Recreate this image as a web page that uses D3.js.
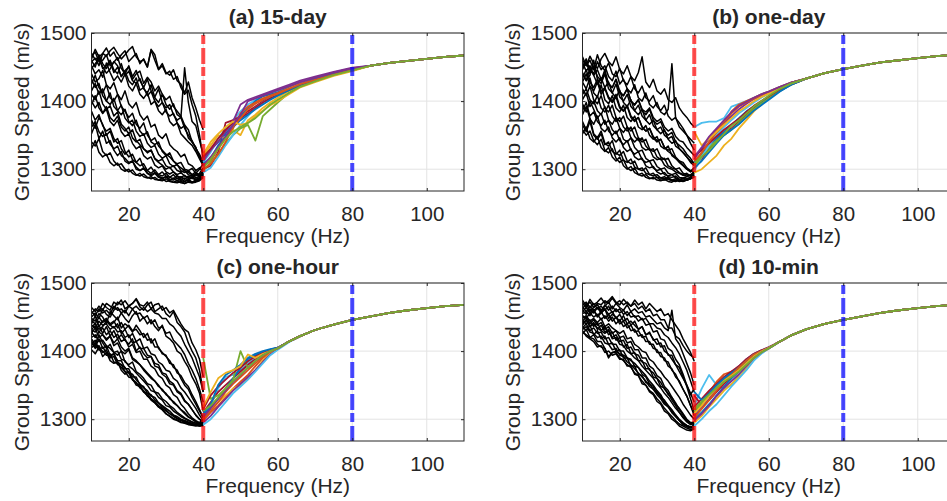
<!DOCTYPE html>
<html>
<head>
<meta charset="utf-8">
<script src="https://d3js.org/d3.v7.min.js"></script>
<style>
body { margin: 0; background: #fff; }
text { font-family: "Liberation Sans", Arial, Helvetica, sans-serif; fill: #262626; }
</style>
</head>
<body>
<svg id="chart" width="947" height="501"></svg>
<script>
// frequencies (Hz) the hand-read values sit on
var blackFreq = [10,11,12,13,14,15,16,17,18,19,20,21,22,23,24,25,26,27,28,29,30,31,32,33,34,35,36,37,38,39,40];
var colorFreq = [40,42,44,46,48,50,52,54,56,58,60,63,66,70,75,80];
var tailFreq = [85,90,95,100,105,110];

var titles = ["(a) 15-day", "(b) one-day", "(c) one-hour", "(d) 10-min"];
var xTicks = [20, 40, 60, 80, 100];
var yTicks = [1300, 1400, 1500];
var lineColors = ["#0072BD","#D95319","#EDB120","#7E2F8E","#77AC30","#4DBEEE","#A2142F"];

// (a) 15-day
var blackA = [
 [1458,1463,1452,1470,1466,1474,1479,1470,1462,1468,1475,1480,1465,1458,1461,1450,1476,1468,1447,1455,1442,1438,1446,1430,1425,1412,1428,1405,1390,1372,1358],
 [1470,1461,1465,1448,1452,1460,1446,1440,1455,1437,1444,1430,1426,1433,1418,1412,1424,1405,1398,1410,1395,1388,1396,1380,1376,1449,1398,1370,1364,1342,1322],
 [1448,1455,1462,1450,1441,1447,1458,1452,1436,1445,1450,1432,1440,1444,1426,1435,1428,1415,1422,1410,1402,1407,1392,1385,1378,1365,1358,1340,1332,1318,1306],
 [1440,1428,1433,1445,1424,1418,1427,1410,1402,1415,1396,1390,1398,1380,1372,1378,1362,1366,1350,1345,1352,1336,1330,1326,1318,1322,1308,1305,1298,1302,1296],
 [1425,1438,1420,1412,1424,1405,1400,1410,1392,1385,1376,1382,1366,1360,1368,1350,1342,1346,1334,1328,1322,1318,1312,1306,1302,1298,1295,1292,1296,1290,1300],
 [1410,1402,1415,1396,1388,1393,1378,1384,1366,1360,1352,1358,1342,1336,1330,1324,1328,1315,1310,1306,1300,1303,1296,1292,1295,1290,1288,1292,1287,1290,1297],
 [1385,1372,1380,1364,1356,1360,1345,1338,1342,1326,1318,1322,1310,1305,1308,1298,1294,1299,1292,1290,1294,1288,1286,1290,1285,1287,1284,1288,1283,1286,1293],
 [1362,1370,1355,1348,1352,1337,1330,1334,1320,1316,1310,1312,1303,1298,1301,1294,1292,1295,1290,1287,1289,1285,1284,1287,1283,1282,1285,1281,1283,1284,1290],
 [1340,1334,1345,1326,1320,1324,1312,1306,1308,1300,1296,1299,1292,1290,1293,1288,1286,1288,1284,1283,1286,1282,1281,1283,1280,1279,1282,1280,1281,1283,1288],
 [1452,1440,1446,1435,1456,1442,1430,1437,1428,1440,1422,1415,1426,1410,1404,1412,1395,1400,1386,1380,1388,1370,1364,1368,1352,1346,1340,1335,1326,1315,1305],
 [1432,1420,1426,1408,1400,1412,1392,1386,1394,1375,1368,1372,1356,1348,1352,1338,1332,1335,1322,1316,1320,1308,1304,1307,1298,1295,1298,1292,1290,1294,1302],
 [1466,1472,1458,1460,1468,1452,1457,1464,1448,1440,1452,1436,1445,1430,1420,1432,1415,1406,1418,1398,1390,1395,1380,1372,1376,1360,1350,1342,1330,1322,1310],
 [1395,1408,1390,1382,1388,1370,1364,1372,1355,1348,1352,1338,1330,1334,1320,1315,1318,1306,1302,1305,1296,1293,1296,1290,1288,1291,1286,1289,1285,1288,1295],
 [1372,1360,1376,1366,1350,1356,1340,1345,1330,1322,1328,1314,1310,1316,1302,1298,1303,1295,1292,1296,1290,1288,1292,1286,1289,1285,1290,1286,1294,1300,1308],
 [1415,1426,1410,1418,1400,1395,1404,1386,1380,1388,1370,1364,1372,1356,1350,1355,1340,1336,1340,1326,1320,1324,1312,1308,1310,1300,1298,1301,1294,1292,1290],
 [1460,1450,1468,1455,1448,1458,1442,1450,1436,1444,1430,1424,1434,1416,1420,1408,1414,1400,1392,1398,1384,1378,1382,1368,1360,1364,1346,1340,1332,1318,1308],
 [1330,1342,1325,1318,1322,1310,1305,1309,1300,1297,1300,1294,1291,1294,1289,1287,1289,1285,1284,1286,1282,1283,1281,1280,1282,1279,1281,1280,1282,1286,1292],
 [1462,1476,1465,1470,1478,1466,1472,1460,1468,1474,1458,1464,1470,1455,1462,1450,1475,1460,1446,1452,1440,1444,1432,1436,1420,1410,1416,1395,1378,1350,1315],
 [1400,1390,1398,1382,1392,1376,1370,1378,1362,1356,1362,1346,1340,1344,1330,1326,1328,1316,1312,1315,1305,1302,1305,1298,1296,1298,1292,1290,1293,1289,1296],
 [1352,1366,1345,1356,1338,1342,1328,1320,1326,1312,1308,1312,1300,1298,1302,1294,1290,1294,1288,1286,1289,1284,1287,1283,1286,1282,1284,1281,1284,1287,1294]
];
var colorA = [
 [1310,1325,1345,1360,1372,1385,1395,1402,1408,1412,1415,1422,1428,1434,1441,1447],
 [1300,1305,1325,1368,1372,1378,1385,1392,1400,1406,1410,1418,1425,1432,1440,1446],
 [1315,1330,1340,1352,1365,1378,1390,1400,1407,1410,1413,1420,1427,1433,1441,1447],
 [1305,1312,1330,1345,1360,1382,1392,1398,1404,1408,1412,1419,1426,1432,1440,1446],
 [1320,1335,1350,1345,1358,1350,1372,1380,1390,1398,1405,1415,1423,1430,1438,1445],
 [1312,1328,1340,1355,1370,1395,1402,1406,1410,1414,1418,1424,1430,1436,1443,1449],
 [1298,1310,1322,1338,1350,1360,1365,1342,1378,1388,1398,1412,1422,1430,1438,1445],
 [1295,1302,1318,1335,1350,1365,1378,1390,1398,1405,1410,1418,1425,1431,1439,1446],
 [1318,1330,1345,1358,1368,1375,1382,1390,1398,1404,1409,1416,1424,1431,1439,1446],
 [1308,1316,1335,1348,1362,1372,1380,1388,1395,1402,1408,1416,1424,1432,1440,1446],
 [1300,1308,1322,1340,1362,1375,1388,1396,1402,1407,1411,1418,1425,1431,1439,1446],
 [1322,1340,1352,1362,1370,1365,1368,1378,1386,1394,1400,1410,1420,1428,1437,1444],
 [1305,1318,1332,1348,1365,1380,1400,1404,1408,1412,1416,1422,1428,1434,1442,1448],
 [1302,1315,1330,1345,1355,1362,1368,1375,1385,1395,1402,1412,1421,1429,1438,1445]
];
var tailA = [1452,1456,1459,1462,1465,1467];

// (b) one-day
var blackB = [
 [1460,1452,1466,1455,1448,1462,1470,1458,1452,1465,1446,1440,1452,1436,1430,1442,1465,1428,1420,1432,1415,1410,1418,1402,1398,1405,1390,1382,1376,1368,1362],
 [1450,1462,1445,1440,1458,1446,1452,1436,1430,1444,1425,1432,1418,1412,1424,1405,1400,1412,1395,1390,1398,1384,1380,1388,1455,1375,1368,1360,1350,1338,1328],
 [1442,1430,1448,1438,1425,1434,1420,1428,1412,1405,1416,1398,1392,1402,1386,1380,1388,1372,1366,1372,1358,1352,1358,1344,1338,1342,1330,1324,1318,1310,1305],
 [1428,1440,1422,1415,1428,1410,1418,1404,1398,1406,1390,1385,1392,1376,1370,1376,1362,1356,1360,1346,1340,1344,1332,1326,1322,1316,1310,1305,1300,1297,1302],
 [1410,1418,1402,1396,1408,1390,1384,1394,1378,1370,1376,1362,1356,1362,1348,1342,1346,1334,1328,1330,1318,1314,1316,1305,1302,1300,1295,1292,1294,1290,1296],
 [1396,1384,1400,1388,1375,1382,1366,1372,1358,1352,1360,1344,1340,1346,1332,1326,1328,1316,1312,1314,1304,1300,1302,1294,1292,1294,1288,1287,1289,1291,1294],
 [1380,1392,1374,1366,1378,1360,1355,1362,1346,1340,1346,1332,1326,1330,1318,1314,1316,1305,1302,1304,1296,1293,1295,1289,1288,1290,1285,1284,1286,1288,1292],
 [1365,1355,1370,1350,1344,1352,1336,1340,1326,1322,1328,1313,1310,1315,1303,1300,1302,1294,1292,1294,1288,1287,1289,1285,1284,1286,1283,1282,1284,1286,1290],
 [1352,1362,1345,1340,1348,1332,1326,1332,1318,1312,1318,1305,1300,1304,1295,1292,1294,1288,1286,1288,1284,1283,1285,1282,1281,1284,1282,1283,1284,1286,1288],
 [1456,1444,1452,1438,1446,1432,1440,1426,1420,1432,1414,1408,1418,1400,1394,1402,1386,1380,1388,1372,1366,1370,1356,1350,1354,1340,1335,1330,1322,1316,1308],
 [1434,1446,1428,1420,1432,1414,1420,1406,1400,1410,1392,1386,1394,1378,1372,1376,1362,1356,1360,1348,1342,1344,1332,1328,1330,1318,1312,1310,1302,1298,1296],
 [1418,1408,1422,1402,1396,1408,1390,1384,1394,1376,1370,1378,1362,1356,1362,1346,1340,1344,1330,1326,1330,1318,1314,1316,1305,1300,1302,1294,1292,1290,1298],
 [1386,1398,1378,1384,1370,1364,1372,1356,1350,1356,1342,1336,1342,1328,1322,1326,1314,1310,1312,1302,1298,1300,1292,1290,1292,1287,1285,1287,1285,1288,1292],
 [1465,1452,1460,1446,1468,1452,1445,1456,1440,1436,1448,1430,1424,1436,1418,1412,1422,1405,1400,1408,1392,1386,1394,1378,1372,1376,1362,1356,1350,1344,1338],
 [1370,1358,1375,1352,1346,1356,1338,1334,1342,1324,1320,1326,1312,1308,1312,1300,1298,1302,1292,1290,1292,1287,1286,1288,1284,1283,1285,1283,1284,1286,1290],
 [1446,1458,1440,1452,1436,1430,1446,1424,1420,1432,1412,1408,1418,1400,1395,1402,1388,1384,1390,1376,1370,1374,1362,1356,1360,1348,1342,1340,1332,1326,1320],
 [1428,1418,1434,1412,1406,1424,1402,1396,1408,1390,1384,1394,1376,1370,1378,1362,1358,1364,1350,1344,1348,1334,1330,1334,1320,1316,1312,1306,1300,1296,1302],
 [1402,1412,1392,1400,1386,1380,1392,1372,1366,1376,1360,1354,1362,1346,1340,1346,1332,1328,1330,1318,1314,1316,1306,1302,1300,1296,1294,1291,1290,1292,1295],
 [1358,1350,1356,1342,1336,1344,1328,1324,1330,1316,1310,1314,1302,1298,1302,1292,1290,1292,1287,1286,1288,1284,1284,1286,1283,1282,1284,1283,1284,1287,1289],
 [1440,1430,1438,1460,1432,1426,1440,1418,1412,1425,1406,1400,1410,1392,1386,1394,1378,1372,1380,1364,1358,1362,1350,1345,1348,1334,1330,1325,1318,1312,1308]
];
var colorB = [
 [1362,1368,1370,1370,1375,1392,1396,1400,1405,1410,1414,1421,1427,1433,1441,1447],
 [1300,1315,1330,1342,1352,1360,1370,1380,1390,1398,1406,1416,1424,1433,1441,1447],
 [1310,1322,1335,1345,1355,1365,1375,1385,1392,1398,1405,1415,1424,1433,1441,1447],
 [1305,1325,1340,1352,1365,1385,1395,1400,1405,1410,1414,1421,1427,1433,1441,1447],
 [1295,1300,1310,1320,1335,1345,1360,1372,1385,1395,1404,1416,1425,1433,1441,1447],
 [1315,1330,1345,1358,1368,1378,1388,1396,1403,1408,1413,1420,1427,1433,1441,1447],
 [1308,1320,1332,1342,1350,1358,1368,1378,1388,1396,1404,1415,1424,1433,1441,1447],
 [1298,1318,1335,1350,1362,1372,1382,1390,1398,1405,1411,1419,1426,1433,1441,1447],
 [1320,1328,1338,1348,1358,1366,1374,1384,1393,1400,1407,1417,1425,1433,1441,1447],
 [1302,1312,1325,1338,1350,1358,1366,1376,1386,1394,1402,1414,1424,1433,1441,1447],
 [1312,1324,1340,1356,1370,1382,1392,1398,1404,1409,1413,1420,1427,1433,1441,1447],
 [1355,1335,1345,1355,1365,1375,1385,1392,1400,1406,1411,1419,1426,1433,1441,1447],
 [1318,1332,1348,1360,1372,1384,1393,1399,1405,1410,1414,1421,1427,1433,1441,1447],
 [1305,1318,1328,1340,1352,1364,1372,1382,1392,1400,1408,1418,1426,1433,1441,1447]
];
var tailB = [1452,1457,1460,1463,1466,1468];

// (c) one-hour
var blackC = [
 [1455,1462,1458,1470,1464,1460,1472,1468,1475,1462,1466,1470,1476,1465,1460,1468,1472,1458,1462,1466,1455,1450,1458,1442,1436,1428,1412,1400,1390,1372,1340],
 [1448,1444,1455,1450,1440,1458,1452,1446,1456,1448,1442,1452,1458,1444,1450,1440,1446,1436,1430,1438,1422,1418,1412,1400,1396,1385,1376,1362,1352,1338,1312],
 [1440,1452,1436,1444,1448,1438,1442,1450,1434,1440,1436,1428,1438,1430,1420,1426,1412,1418,1404,1398,1392,1386,1376,1372,1360,1350,1344,1332,1322,1312,1302],
 [1432,1428,1438,1426,1436,1422,1430,1418,1424,1416,1410,1418,1400,1406,1396,1390,1392,1378,1376,1366,1362,1352,1350,1340,1336,1326,1322,1314,1306,1300,1295],
 [1426,1434,1420,1424,1416,1422,1408,1412,1400,1396,1402,1388,1384,1380,1372,1366,1360,1356,1348,1344,1336,1332,1324,1320,1314,1310,1304,1300,1297,1294,1292],
 [1418,1410,1424,1412,1404,1410,1398,1394,1400,1384,1380,1384,1370,1366,1360,1352,1350,1340,1338,1330,1326,1320,1316,1310,1306,1302,1299,1296,1294,1292,1291],
 [1410,1416,1402,1406,1398,1392,1396,1384,1380,1376,1368,1366,1358,1352,1346,1342,1334,1332,1324,1320,1316,1312,1306,1304,1300,1298,1296,1294,1292,1291,1292],
 [1402,1396,1406,1392,1398,1386,1382,1384,1372,1366,1370,1358,1352,1350,1340,1338,1330,1326,1320,1316,1312,1308,1304,1301,1298,1296,1294,1292,1291,1290,1290],
 [1464,1458,1466,1460,1470,1466,1462,1472,1468,1474,1466,1470,1477,1468,1466,1472,1462,1468,1470,1460,1464,1456,1460,1450,1440,1432,1428,1412,1402,1388,1362],
 [1450,1456,1448,1462,1454,1450,1460,1464,1456,1460,1452,1462,1454,1456,1448,1452,1440,1446,1434,1436,1426,1428,1416,1410,1404,1395,1382,1372,1360,1344,1325],
 [1436,1440,1432,1436,1444,1438,1434,1440,1426,1432,1420,1426,1414,1418,1404,1406,1396,1394,1384,1380,1372,1370,1360,1356,1346,1340,1332,1324,1316,1306,1298],
 [1428,1420,1428,1424,1418,1422,1412,1418,1406,1400,1404,1390,1386,1380,1374,1368,1362,1356,1350,1342,1338,1330,1326,1320,1314,1308,1303,1300,1296,1293,1295],
 [1420,1424,1414,1416,1408,1404,1398,1400,1388,1386,1378,1374,1368,1362,1356,1350,1342,1340,1332,1328,1320,1318,1312,1308,1304,1301,1298,1296,1294,1293,1300],
 [1445,1440,1450,1442,1446,1440,1444,1434,1442,1432,1438,1430,1432,1424,1426,1416,1418,1406,1406,1396,1394,1382,1380,1368,1364,1354,1348,1336,1326,1314,1302],
 [1405,1410,1402,1400,1394,1396,1384,1382,1376,1370,1362,1360,1350,1348,1340,1335,1328,1324,1318,1314,1308,1305,1301,1299,1296,1295,1293,1292,1291,1292,1296],
 [1458,1452,1462,1456,1460,1454,1466,1460,1462,1456,1466,1462,1466,1460,1464,1458,1462,1456,1454,1448,1448,1440,1436,1428,1422,1410,1400,1390,1376,1362,1340],
 [1438,1434,1444,1438,1440,1432,1436,1428,1430,1420,1424,1412,1414,1404,1404,1394,1392,1382,1380,1368,1366,1356,1352,1342,1338,1328,1322,1314,1306,1300,1297],
 [1415,1406,1418,1404,1408,1394,1396,1386,1386,1374,1374,1362,1362,1350,1348,1338,1336,1328,1324,1318,1314,1308,1306,1302,1299,1297,1295,1293,1292,1290,1292],
 [1432,1437,1428,1434,1424,1430,1420,1425,1414,1418,1406,1410,1398,1400,1388,1388,1378,1374,1364,1360,1350,1346,1336,1332,1322,1316,1308,1302,1298,1295,1300],
 [1412,1404,1408,1398,1402,1390,1392,1380,1380,1370,1368,1358,1354,1346,1342,1334,1330,1324,1318,1314,1308,1304,1300,1298,1295,1294,1292,1291,1290,1291,1294]
];
var colorC = [
 [1300,1320,1345,1362,1365,1372,1382,1390,1395,1400,1404,1414,1422,1431,1439,1446],
 [1310,1325,1340,1350,1360,1370,1380,1388,1396,1401,1405,1414,1422,1431,1439,1446],
 [1305,1318,1330,1345,1360,1375,1388,1394,1398,1402,1405,1414,1422,1431,1439,1446],
 [1298,1310,1320,1332,1345,1355,1365,1378,1390,1398,1404,1414,1422,1431,1439,1446],
 [1302,1315,1325,1335,1345,1350,1360,1372,1386,1397,1404,1414,1422,1431,1439,1446],
 [1295,1305,1318,1330,1342,1352,1362,1372,1384,1395,1403,1414,1422,1431,1439,1446],
 [1390,1330,1335,1345,1358,1400,1375,1385,1393,1400,1404,1414,1422,1431,1439,1446],
 [1292,1300,1312,1325,1338,1348,1358,1370,1382,1394,1402,1413,1422,1431,1439,1446],
 [1315,1335,1348,1358,1368,1376,1385,1392,1397,1401,1405,1414,1422,1431,1439,1446],
 [1308,1322,1350,1365,1372,1380,1390,1396,1400,1403,1405,1414,1422,1431,1439,1446],
 [1300,1312,1325,1340,1352,1362,1372,1382,1392,1399,1404,1414,1422,1431,1439,1446],
 [1318,1340,1360,1368,1372,1378,1395,1390,1396,1400,1404,1414,1422,1431,1439,1446],
 [1303,1316,1330,1342,1355,1365,1376,1386,1394,1400,1404,1414,1422,1431,1439,1446],
 [1312,1320,1332,1345,1356,1366,1376,1386,1394,1400,1404,1414,1422,1431,1439,1446]
];
var tailC = [1451,1456,1460,1463,1466,1468];

// (d) 10-min
var blackD = [
 [1470,1464,1476,1468,1472,1478,1470,1474,1480,1472,1468,1476,1470,1466,1475,1468,1472,1462,1470,1464,1458,1462,1452,1455,1446,1438,1430,1418,1408,1398,1385],
 [1462,1470,1458,1464,1468,1460,1466,1472,1462,1470,1464,1460,1468,1458,1462,1456,1458,1450,1452,1446,1440,1442,1434,1430,1460,1418,1410,1396,1382,1368,1350],
 [1455,1458,1452,1460,1450,1456,1462,1448,1454,1450,1444,1452,1440,1444,1438,1432,1436,1424,1426,1418,1410,1412,1400,1396,1388,1380,1370,1360,1350,1338,1325],
 [1448,1452,1444,1448,1442,1448,1436,1440,1434,1430,1426,1430,1418,1420,1410,1406,1400,1398,1388,1384,1376,1370,1362,1356,1348,1340,1332,1322,1314,1306,1300],
 [1440,1446,1436,1440,1434,1430,1426,1430,1418,1420,1410,1408,1400,1396,1390,1386,1378,1372,1366,1360,1352,1346,1338,1332,1324,1316,1310,1303,1298,1294,1292],
 [1432,1436,1428,1426,1420,1422,1412,1410,1402,1404,1394,1392,1384,1380,1374,1368,1362,1356,1348,1344,1336,1330,1322,1318,1310,1304,1298,1294,1291,1289,1288],
 [1428,1424,1420,1418,1410,1406,1404,1392,1398,1398,1390,1386,1380,1376,1368,1364,1356,1350,1342,1338,1330,1324,1316,1310,1304,1298,1293,1290,1287,1285,1287],
 [1468,1472,1464,1470,1462,1466,1460,1466,1456,1462,1456,1460,1452,1458,1450,1452,1446,1448,1440,1440,1434,1432,1424,1420,1412,1405,1396,1384,1372,1356,1340],
 [1452,1448,1456,1450,1454,1446,1452,1444,1450,1440,1446,1436,1440,1430,1432,1422,1424,1414,1414,1404,1402,1392,1390,1378,1374,1362,1356,1344,1334,1320,1310],
 [1445,1440,1446,1436,1442,1430,1436,1424,1428,1416,1420,1406,1410,1396,1398,1386,1386,1374,1374,1362,1360,1348,1346,1336,1332,1322,1316,1308,1300,1295,1295],
 [1436,1430,1438,1424,1430,1418,1422,1410,1412,1400,1402,1390,1390,1378,1378,1366,1364,1354,1352,1344,1340,1332,1328,1320,1314,1306,1300,1295,1291,1288,1290],
 [1430,1422,1418,1414,1406,1408,1398,1400,1394,1396,1388,1388,1378,1378,1366,1364,1352,1350,1340,1336,1326,1322,1312,1308,1300,1296,1290,1287,1284,1283,1286],
 [1475,1466,1472,1464,1470,1468,1474,1470,1478,1470,1474,1468,1472,1466,1470,1462,1466,1458,1462,1452,1454,1446,1446,1434,1434,1422,1418,1408,1400,1394,1390],
 [1458,1464,1456,1460,1452,1458,1448,1454,1444,1450,1440,1444,1434,1438,1428,1430,1420,1422,1410,1410,1398,1398,1386,1384,1372,1366,1354,1344,1334,1320,1305],
 [1438,1446,1436,1442,1432,1438,1428,1432,1420,1424,1414,1416,1404,1406,1396,1394,1384,1382,1372,1368,1360,1354,1344,1338,1328,1320,1310,1302,1296,1292,1294],
 [1465,1458,1466,1460,1464,1456,1462,1454,1458,1448,1454,1444,1448,1438,1444,1432,1436,1424,1428,1416,1418,1406,1408,1394,1394,1380,1376,1362,1348,1330,1312],
 [1425,1432,1420,1424,1414,1414,1404,1390,1398,1400,1396,1394,1390,1386,1382,1376,1370,1364,1356,1350,1342,1336,1326,1320,1312,1306,1298,1292,1289,1287,1290],
 [1460,1454,1462,1456,1464,1458,1468,1460,1466,1458,1462,1454,1458,1450,1452,1444,1448,1438,1440,1428,1430,1418,1416,1404,1400,1388,1380,1366,1350,1336,1345],
 [1444,1450,1440,1446,1438,1442,1432,1436,1426,1430,1420,1422,1412,1414,1402,1402,1390,1390,1378,1374,1364,1360,1348,1342,1332,1324,1314,1306,1298,1294,1296],
 [1434,1440,1430,1434,1426,1428,1418,1420,1410,1410,1400,1400,1390,1388,1378,1376,1366,1362,1352,1348,1338,1334,1324,1318,1310,1304,1298,1293,1290,1288,1292]
];
var colorD = [
 [1320,1345,1365,1350,1345,1350,1365,1378,1392,1400,1405,1414,1423,1432,1440,1446],
 [1335,1320,1328,1340,1352,1362,1372,1382,1392,1399,1405,1414,1423,1432,1440,1446],
 [1300,1310,1322,1335,1348,1360,1370,1380,1390,1398,1404,1414,1423,1432,1440,1446],
 [1310,1325,1340,1355,1366,1370,1375,1385,1394,1400,1405,1414,1423,1432,1440,1446],
 [1295,1305,1318,1330,1342,1352,1362,1374,1388,1397,1404,1414,1423,1432,1440,1446],
 [1305,1318,1330,1345,1358,1368,1378,1388,1396,1401,1406,1414,1423,1432,1440,1446],
 [1312,1322,1335,1348,1358,1366,1374,1384,1393,1400,1405,1414,1423,1432,1440,1446],
 [1290,1300,1312,1322,1335,1348,1360,1372,1386,1396,1404,1414,1423,1432,1440,1446],
 [1318,1330,1342,1352,1362,1370,1378,1388,1396,1401,1405,1414,1423,1432,1440,1446],
 [1340,1328,1338,1350,1360,1368,1376,1386,1395,1400,1405,1414,1423,1432,1440,1446],
 [1302,1315,1328,1342,1355,1365,1376,1386,1395,1400,1405,1414,1423,1432,1440,1446],
 [1308,1320,1334,1346,1356,1364,1372,1382,1392,1399,1405,1414,1423,1432,1440,1446],
 [1298,1308,1320,1334,1346,1356,1366,1378,1390,1398,1404,1414,1423,1432,1440,1446],
 [1315,1326,1336,1346,1355,1362,1370,1380,1390,1398,1404,1414,1423,1432,1440,1446]
];
var tailD = [1451,1456,1460,1463,1466,1468];

var panels = [
  {title: titles[0], black: blackA, color: colorA, tail: tailA, left: 91.5, top: 33},
  {title: titles[1], black: blackB, color: colorB, tail: tailB, left: 582.5, top: 33},
  {title: titles[2], black: blackC, color: colorC, tail: tailC, left: 91.5, top: 283},
  {title: titles[3], black: blackD, color: colorD, tail: tailD, left: 582.5, top: 283}
];

var width = 372.5, height = 158;
var svg = d3.select("#chart");

var x = d3.scaleLinear().domain([10, 110]).range([0, width]);
var y = d3.scaleLinear().domain([1268, 1500]).range([height, 0]);

var line = d3.line()
  .x(function(d) { return x(d[0]); })
  .y(function(d) { return y(d[1]); });

svg.append("defs").append("clipPath")
  .attr("id", "plotclip")
  .append("rect")
  .attr("width", width).attr("height", height);

panels.forEach(function(p) {
  var g = svg.append("g")
    .attr("transform", "translate(" + p.left + "," + p.top + ")");

  // grid
  g.selectAll(".gx").data(xTicks).enter().append("line")
    .attr("x1", function(d) { return x(d); }).attr("x2", function(d) { return x(d); })
    .attr("y1", 0).attr("y2", height)
    .attr("stroke", "#e3e3e3").attr("stroke-width", 1);
  g.selectAll(".gy").data(yTicks).enter().append("line")
    .attr("x1", 0).attr("x2", width)
    .attr("y1", function(d) { return y(d); }).attr("y2", function(d) { return y(d); })
    .attr("stroke", "#e3e3e3").attr("stroke-width", 1);

  var plot = g.append("g").attr("clip-path", "url(#plotclip)");

  plot.selectAll(".blk").data(p.black).enter().append("path")
    .attr("fill", "none")
    .attr("stroke", "#000")
    .attr("stroke-width", 1.5)
    .attr("stroke-linejoin", "round")
    .attr("d", function(vals) {
      return line(vals.map(function(v, i) { return [blackFreq[i], v]; }));
    });

  plot.selectAll(".col").data(p.color).enter().append("path")
    .attr("fill", "none")
    .attr("stroke", function(d, i) { return lineColors[(i + 5) % lineColors.length]; })
    .attr("stroke-width", 1.8)
    .attr("stroke-linejoin", "round")
    .attr("d", function(vals) {
      var pts = vals.map(function(v, i) { return [colorFreq[i], v]; });
      p.tail.forEach(function(v, i) { pts.push([tailFreq[i], v]); });
      return line(pts);
    });

  // frequency markers
  plot.append("line")
    .attr("x1", x(40)).attr("x2", x(40)).attr("y1", 0).attr("y2", height)
    .attr("stroke", "#ff0000").attr("stroke-opacity", 0.7)
    .attr("stroke-width", 4).attr("stroke-dasharray", "16,3,9,4")
    .attr("stroke-dashoffset", 17);
  plot.append("line")
    .attr("x1", x(80)).attr("x2", x(80)).attr("y1", 0).attr("y2", height)
    .attr("stroke", "#0000ff").attr("stroke-opacity", 0.72)
    .attr("stroke-width", 4).attr("stroke-dasharray", "16,3,9,4")
    .attr("stroke-dashoffset", 17);

  // axes
  var xAxis = g.append("g")
    .attr("transform", "translate(0," + height + ")")
    .call(d3.axisBottom(x).tickValues(xTicks).tickSizeInner(-3).tickSizeOuter(0).tickPadding(15));
  g.append("g")
    .call(d3.axisTop(x).tickValues(xTicks).tickSizeInner(-3).tickSizeOuter(0).tickFormat(""));
  var yAxis = g.append("g")
    .call(d3.axisLeft(y).tickValues(yTicks).tickFormat(d3.format("d")).tickSizeInner(-3).tickSizeOuter(0).tickPadding(5));
  g.append("g")
    .attr("transform", "translate(" + width + ",0)")
    .call(d3.axisRight(y).tickValues(yTicks).tickSizeInner(-3).tickSizeOuter(0).tickFormat(""));

  g.selectAll(".domain").remove();
  g.selectAll(".tick line").attr("stroke", "#262626");
  xAxis.selectAll("text").attr("font-size", "20.5px").attr("fill", "#262626").attr("dy", "0.71em");
  yAxis.selectAll("text").attr("font-size", "21px").attr("fill", "#262626");

  g.append("rect")
    .attr("width", width).attr("height", height)
    .attr("fill", "none").attr("stroke", "#262626").attr("stroke-width", 1);

  g.append("text")
    .attr("x", width / 2).attr("y", -9)
    .attr("text-anchor", "middle")
    .attr("font-size", "21px").attr("font-weight", "bold")
    .text(p.title);

  g.append("text")
    .attr("x", width / 2).attr("y", height + 52)
    .attr("text-anchor", "middle")
    .attr("font-size", "21px")
    .text("Frequency (Hz)");

  g.append("text")
    .attr("transform", "translate(-63," + (height / 2) + ") rotate(-90)")
    .attr("text-anchor", "middle")
    .attr("font-size", "21px")
    .text("Group Speed (m/s)");
});
</script>
</body>
</html>
